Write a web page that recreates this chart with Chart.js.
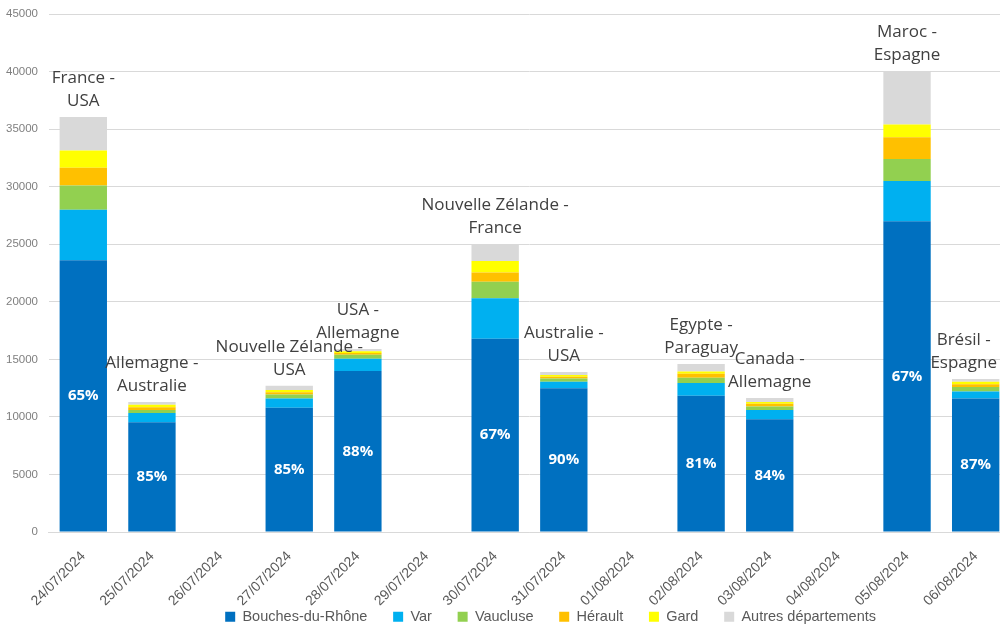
<!DOCTYPE html>
<html>
<head>
<meta charset="utf-8">
<script src="https://cdn.jsdelivr.net/npm/chart.js@4.4.1/dist/chart.umd.min.js"></script>
<style>
    html, body { margin: 0; padding: 0; background: #fff; overflow: hidden; }
    /* la zone de tracé dépasse un peu à droite, comme sur l'original */
    #wrap { width: 1010px; height: 628px; }
</style>
</head>
<body>
<div id="wrap"><canvas id="chart"></canvas></div>
<script>
// dates (jours sans match = null)
const dates = ['24/07/2024', '25/07/2024', '26/07/2024', '27/07/2024', '28/07/2024', '29/07/2024', '30/07/2024',
    '31/07/2024', '01/08/2024', '02/08/2024', '03/08/2024', '04/08/2024', '05/08/2024', '06/08/2024'];

const bouchesDuRhone = [23600, 9550, null, 10800, 14000, null, 16800, 12500, null, 11850, 9800, null, 27000, 11600];
const varDep = [4400, 800, null, 800, 1050, null, 3500, 550, null, 1100, 800, null, 3500, 600];
const vaucluse = [2100, 250, null, 350, 350, null, 1450, 300, null, 450, 300, null, 1900, 400];
const herault = [1550, 250, null, 200, 150, null, 800, 150, null, 350, 250, null, 1900, 250];
const gard = [1500, 200, null, 200, 150, null, 1000, 150, null, 200, 150, null, 1100, 200];
const autres = [2900, 250, null, 350, 200, null, 1450, 250, null, 650, 350, null, 4600, 250];

// matchs affichés au-dessus des barres
const matchs = [['France -', 'USA'], ['Allemagne -', 'Australie'], null, ['Nouvelle Zélande -', 'USA'],
    ['USA -', 'Allemagne'], null, ['Nouvelle Zélande -', 'France'], ['Australie -', 'USA'], null,
    ['Egypte -', 'Paraguay'], ['Canada -', 'Allemagne'], null, ['Maroc -', 'Espagne'], ['Brésil -', 'Espagne']];

// part des Bouches-du-Rhône
const parts = ['65%', '85%', null, '85%', '88%', null, '67%', '90%', null, '81%', '84%', null, '67%', '87%'];

const yTicks = { min: 0, max: 45000, step: 5000 };

// Plugin : étiquettes pays au-dessus + pourcentage dans la barre bleue
const etiquettes = {
    id: 'etiquettes',
    afterLayout(chart) {
        // légende un peu décalée vers la droite comme dans Excel
        chart.legend.left += 32;
        chart.legend.right += 32;
    },
    afterDatasetsDraw(chart) {
        const ctx = chart.ctx;
        const first = chart.getDatasetMeta(0);
        const last = chart.getDatasetMeta(chart.data.datasets.length - 1);
        ctx.save();
        ctx.textAlign = 'center';
        ctx.textBaseline = 'middle';
        first.data.forEach((bar, i) => {
            if (parts[i] === null) return;
            ctx.font = 'bold 15px "Open Sans", sans-serif';
            ctx.fillStyle = '#ffffff';
            ctx.fillText(parts[i], bar.x, (bar.y + bar.base) / 2);
        });
        ctx.font = '17px "Open Sans", sans-serif';
        ctx.fillStyle = '#404040';
        last.data.forEach((bar, i) => {
            if (!matchs[i]) return;
            const lignes = matchs[i];
            // on garde le texte dans l'image (bord droit à 1000px)
            const larg = Math.max(...lignes.map(l => ctx.measureText(l).width));
            const x = Math.min(bar.x, 997 - larg / 2);
            lignes.forEach((l, k) => {
                ctx.fillText(l, x, bar.y - 16 - (lignes.length - 1 - k) * 23);
            });
        });
        ctx.restore();
    }
};

new Chart(document.getElementById('chart').getContext('2d'), {
    type: 'bar',
    data: {
        labels: dates,
        datasets: [
            { label: 'Bouches-du-Rhône', data: bouchesDuRhone, backgroundColor: '#0070C0' },
            { label: 'Var', data: varDep, backgroundColor: '#00B0F0' },
            { label: 'Vaucluse', data: vaucluse, backgroundColor: '#92D050' },
            { label: 'Hérault', data: herault, backgroundColor: '#FFC000' },
            { label: 'Gard', data: gard, backgroundColor: '#FFFF00' },
            { label: 'Autres départements', data: autres, backgroundColor: '#D9D9D9' }
        ]
    },
    options: {
        responsive: true,
        maintainAspectRatio: false,
        animation: false,
        layout: { padding: { top: 0, right: 0, left: -5, bottom: -6 } },
        datasets: {
            bar: { categoryPercentage: 0.69, barPercentage: 1.0 }
        },
        scales: {
            x: {
                stacked: true,
                grid: { display: false },
                border: { color: '#d9d9d9' },
                // les dates tournées prennent moins de place que prévu
                afterFit: (scale) => { scale.height -= 12; },
                ticks: {
                    color: '#595959',
                    padding: 8,
                    font: { family: '"Liberation Sans", sans-serif', size: 14 },
                    maxRotation: 45,
                    minRotation: 45,
                    autoSkip: false
                }
            },
            y: {
                stacked: true,
                min: yTicks.min,
                max: yTicks.max,
                afterFit: (scale) => { scale.paddingTop = 14; },
                grid: { color: '#d9d9d9', drawTicks: false },
                border: { display: false },
                ticks: {
                    stepSize: yTicks.step,
                    color: '#7f7f7f',
                    padding: 11,
                    font: { family: '"Liberation Sans", sans-serif', size: 11.5 },
                    callback: (v) => String(v)
                }
            }
        },
        plugins: {
            legend: {
                position: 'bottom',
                fullSize: false,
                labels: {
                    boxWidth: 10,
                    boxHeight: 10,
                    padding: 4,
                    color: '#595959',
                    font: { family: '"Liberation Sans", sans-serif', size: 14.5 },
                    // espace plus large entre les entrées
                    generateLabels(chart) {
                        const items = Chart.defaults.plugins.legend.labels.generateLabels(chart);
                        items.forEach(it => { it.text = it.text + '\u2002\u2002\u2002'; });
                        return items;
                    }
                }
            },
            tooltip: { enabled: false }
        }
    },
    plugins: [etiquettes]
});
</script>
</body>
</html>
